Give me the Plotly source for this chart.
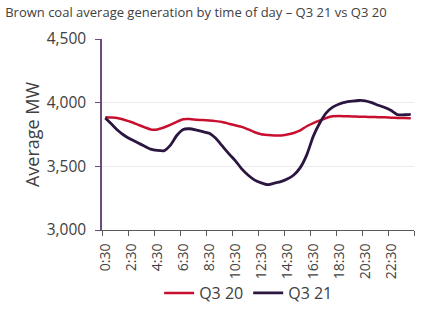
import plotly.graph_objects as go

# Half-hourly trading intervals (period ending)
times = [f"{(m // 60)}:{m % 60:02d}" for m in range(30, 24 * 60 + 1, 30)]
times[-1] = "0:00"

# Average brown coal generation (MW) per interval
q3_20 = [3885, 3883, 3878, 3864, 3848, 3828, 3808, 3790, 3790, 3805, 3825, 3850,
         3870, 3872, 3866, 3863, 3860, 3855, 3848, 3835, 3822, 3810, 3790, 3768,
         3752, 3746, 3742, 3742, 3750, 3762, 3782, 3815, 3840, 3860, 3880, 3893,
         3895, 3893, 3892, 3890, 3889, 3887, 3886, 3885, 3882, 3880, 3879, 3877]
q3_21 = [3880, 3830, 3780, 3740, 3710, 3685, 3660, 3635, 3625, 3622, 3665, 3742,
         3790, 3795, 3785, 3772, 3760, 3720, 3660, 3600, 3545, 3480, 3430, 3392,
         3370, 3356, 3368, 3380, 3400, 3432, 3490, 3590, 3735, 3840, 3920, 3965,
         3990, 4005, 4012, 4017, 4015, 4000, 3980, 3962, 3938, 3905, 3905, 3908]

y_ticks = [3000, 3500, 4000, 4500]

idx = list(range(len(times)))
label_idx = idx[::4]
label_txt = [times[i] for i in label_idx]
boundaries = [i - 0.5 for i in idx[::4]] + [len(times) - 0.5]

FONT = "Open Sans"
TXT = "#404040"

fig = go.Figure()
fig.add_trace(go.Scatter(x=idx, y=q3_20, name="Q3 20", mode="lines",
                         line=dict(color="#C8102E", width=2.5, shape="spline", smoothing=0.5)))
fig.add_trace(go.Scatter(x=idx, y=q3_21, name="Q3 21", mode="lines",
                         line=dict(color="#2B1640", width=2.8, shape="spline", smoothing=0.5)))

fig.update_layout(
    width=433, height=322,
    margin=dict(l=102, r=19, t=39, b=88),
    paper_bgcolor="white", plot_bgcolor="white",
    font=dict(family=FONT, color=TXT),
    title=dict(text="Brown coal average generation by time of day – Q3 21 vs Q3 20",
               x=0.012, xanchor="left", y=0.962, yanchor="middle",
               font=dict(size=13, color=TXT, family=FONT)),
    legend=dict(orientation="h", x=0.47, xanchor="center", y=-0.33, yanchor="middle",
                font=dict(size=16, color=TXT), itemwidth=30, tracegroupgap=0,
                bgcolor="rgba(0,0,0,0)"),
    showlegend=True,
)

fig.update_xaxes(
    range=[-0.5, len(times) - 0.5],
    tickmode="array", tickvals=label_idx, ticktext=label_txt,
    tickangle=-90, ticks="", tickfont=dict(size=14, color=TXT),
    ticklabelstandoff=7,
    showgrid=False, zeroline=False,
    showline=True, linecolor="#595959", linewidth=1,
    minor=dict(tickmode="array", tickvals=boundaries, ticks="outside",
               ticklen=5, tickcolor="#595959", tickwidth=1, showgrid=False),
)

fig.update_yaxes(
    range=[3000, 4500],
    tickmode="array", tickvals=y_ticks, tickformat=",",
    ticks="outside", ticklen=5, tickcolor="#6B4C7A", tickwidth=1,
    tickfont=dict(size=15.5, color=TXT), ticklabelstandoff=6,
    title=dict(text="Average MW", font=dict(size=18, color=TXT), standoff=2),
    showgrid=True, gridcolor="#EBEBEB", gridwidth=1, zeroline=False,
    showline=True, linecolor="#6B4C7A", linewidth=1.5,
)

fig.write_html("out.html")
